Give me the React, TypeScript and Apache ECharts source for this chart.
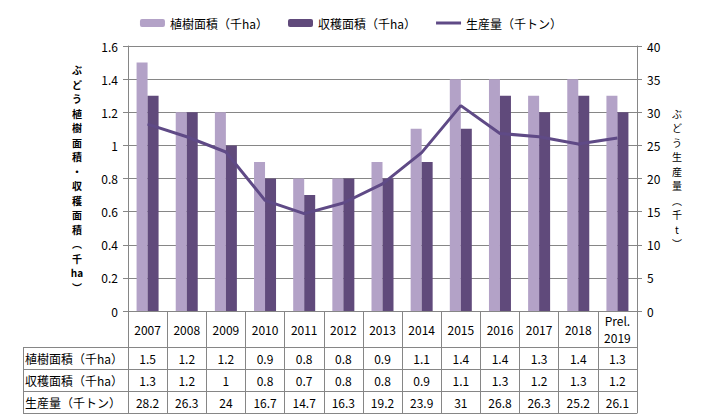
import React, { useEffect, useRef } from "react";
import * as echarts from "echarts";

const categories = ["2007", "2008", "2009", "2010", "2011", "2012", "2013", "2014", "2015", "2016", "2017", "2018", "Prel.\n2019"];
const planted = [1.5, 1.2, 1.2, 0.9, 0.8, 0.8, 0.9, 1.1, 1.4, 1.4, 1.3, 1.4, 1.3];
const harvested = [1.3, 1.2, 1, 0.8, 0.7, 0.8, 0.8, 0.9, 1.1, 1.3, 1.2, 1.3, 1.2];
const production = [28.2, 26.3, 24, 16.7, 14.7, 16.3, 19.2, 23.9, 31, 26.8, 26.3, 25.2, 26.1];

const seriesNames = ["植樹面積（千ha）", "収穫面積（千ha）", "生産量（千トン）"];
const leftAxisName = ["ぶ", "ど", "う", "植", "樹", "面", "積", "・", "収", "穫", "面", "積", "︵", "千", "ha", "︶"];
const rightAxisName = ["ぶ", "ど", "う", "生", "産", "量", "︵", "千", "t", "︶"];

const GRAY = "#868686";
const FONT = "'Noto Sans CJK JP', 'Noto Sans', sans-serif";

export default function App() {
  const ref = useRef<HTMLDivElement>(null);
  useEffect(() => {
    document.body.style.margin = "0";
    const chart = echarts.init(ref.current!, null, { renderer: "svg" });

    const rowAxis = (offset: number, name: string, values: number[] | null) => ({
      type: "category",
      data: categories,
      position: "bottom",
      offset,
      gridIndex: 0,
      axisLine: { show: true, onZero: false, lineStyle: { color: GRAY, width: 1 } },
      axisTick: { show: false },
      splitLine: { show: false },
      axisLabel: {
        show: values != null,
        interval: 0,
        margin: 11,
        verticalAlign: "middle",
        color: "#000",
        fontSize: 12,
        fontFamily: FONT,
        formatter: (_v: string, i: number) => (values ? String(values[i]) : ""),
      },
      name,
      nameLocation: "start",
      nameGap: 103,
      nameTextStyle: {
        align: "left",
        verticalAlign: "top",
        lineHeight: 22,
        fontSize: 12,
        color: "#000",
        fontFamily: FONT,
      },
    });

    const option: any = {
      animation: false,
      textStyle: { fontFamily: FONT },
      legend: {
        data: [
          { name: seriesNames[0] },
          { name: seriesNames[1] },
          { name: seriesNames[2], icon: "path://M0,0 L25,0 L25,3 L0,3 Z" },
        ],
        top: 12,
        left: "center",
        itemWidth: 25,
        itemHeight: 8,
        itemGap: 20,
        textStyle: { fontSize: 12, color: "#000", fontFamily: FONT },
      },
      grid: { left: 128, right: 65, top: 46, bottom: 109, containLabel: false },
      xAxis: [
        {
          type: "category",
          data: categories,
          position: "bottom",
          axisLine: { show: true, onZero: false, lineStyle: { color: GRAY, width: 1 } },
          axisTick: {
            show: true,
            alignWithLabel: false,
            interval: 0,
            length: 102,
            lineStyle: { color: GRAY, width: 1 },
          },
          axisLabel: {
            interval: 0,
            margin: 18,
            verticalAlign: "middle",
            lineHeight: 17.5,
            color: "#000",
            fontSize: 12,
            fontFamily: FONT,
          },
        },
        rowAxis(36, seriesNames[0], planted),
        rowAxis(58, seriesNames[1], harvested),
        rowAxis(80, seriesNames[2], production),
        rowAxis(102, "", null),
      ],
      yAxis: [
        {
          type: "value",
          min: 0,
          max: 1.6,
          interval: 0.2,
          position: "left",
          axisLine: { show: true, lineStyle: { color: GRAY, width: 1 } },
          axisTick: { show: true, length: 5, lineStyle: { color: GRAY } },
          splitLine: { show: true, lineStyle: { color: GRAY, width: 1 } },
          axisLabel: { margin: 10, color: "#000", fontSize: 12, fontFamily: FONT },
          name: leftAxisName.join("\n"),
          nameLocation: "middle",
          nameRotate: 0,
          nameGap: 51,
          nameTextStyle: {
            align: "center",
            verticalAlign: "middle",
            fontSize: 10,
            fontWeight: "bold",
            lineHeight: 14.5,
            color: "#000",
            fontFamily: FONT,
            padding: [20, 0, 0, 0],
          },
        },
        {
          type: "value",
          min: 0,
          max: 40,
          interval: 5,
          position: "right",
          axisLine: { show: true, lineStyle: { color: GRAY, width: 1 } },
          axisTick: { show: true, length: 5, lineStyle: { color: GRAY } },
          splitLine: { show: false },
          axisLabel: { margin: 10, color: "#000", fontSize: 12, fontFamily: FONT },
          name: rightAxisName.join("\n"),
          nameLocation: "middle",
          nameRotate: 0,
          nameGap: 40,
          nameTextStyle: {
            align: "center",
            verticalAlign: "middle",
            fontSize: 10,
            lineHeight: 14.5,
            color: "#000",
            fontFamily: FONT,
          },
        },
      ],
      graphic: [
        { type: "line", shape: { x1: 23, y1: 347.5, x2: 128, y2: 347.5 }, style: { stroke: GRAY, lineWidth: 1 } },
        { type: "line", shape: { x1: 23, y1: 369.5, x2: 128, y2: 369.5 }, style: { stroke: GRAY, lineWidth: 1 } },
        { type: "line", shape: { x1: 23, y1: 391.5, x2: 128, y2: 391.5 }, style: { stroke: GRAY, lineWidth: 1 } },
        { type: "line", shape: { x1: 23, y1: 413.5, x2: 128, y2: 413.5 }, style: { stroke: GRAY, lineWidth: 1 } },
        { type: "line", shape: { x1: 23.5, y1: 347.5, x2: 23.5, y2: 413.5 }, style: { stroke: GRAY, lineWidth: 1 } },
      ],
      series: [
        {
          name: seriesNames[0],
          type: "bar",
          xAxisIndex: 0,
          yAxisIndex: 0,
          data: planted,
          barWidth: 11,
          barGap: "0%",
          itemStyle: { color: "#b3a2c7" },
        },
        {
          name: seriesNames[1],
          type: "bar",
          xAxisIndex: 0,
          yAxisIndex: 0,
          data: harvested,
          barWidth: 11,
          barGap: "0%",
          itemStyle: { color: "#604a7b" },
        },
        {
          name: seriesNames[2],
          type: "line",
          xAxisIndex: 0,
          yAxisIndex: 1,
          data: production,
          symbol: "none",
          itemStyle: { color: "#5f4a86" },
          lineStyle: { color: "#5f4a86", width: 3 },
        },
      ],
    };
    chart.setOption(option);
    return () => chart.dispose();
  }, []);
  return <div ref={ref} style={{ width: 702, height: 420 }} />;
}
